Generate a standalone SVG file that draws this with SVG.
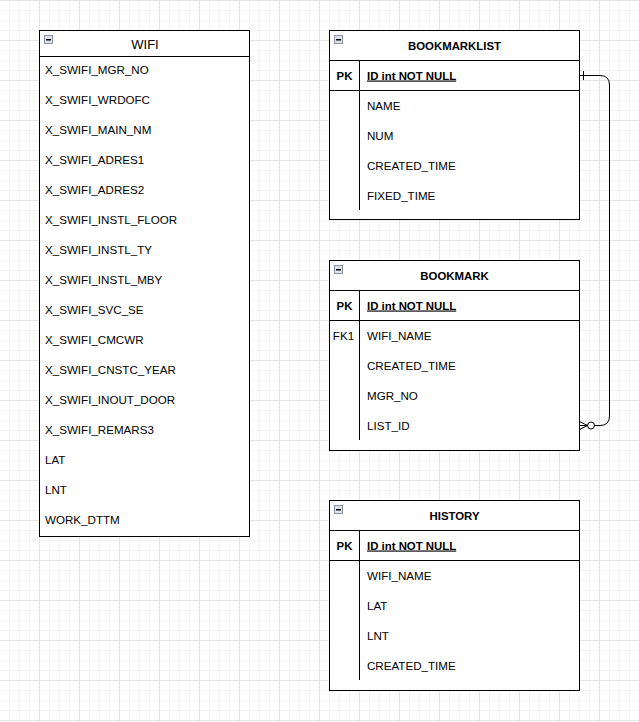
<svg xmlns="http://www.w3.org/2000/svg" width="639" height="722" viewBox="0 0 639 722">
<style>
.box{fill:#fff;stroke:#000;stroke-width:1}
.ln{stroke:#000;stroke-width:1;fill:none}
.t{font-family:"Liberation Sans",Arial,Helvetica,sans-serif;font-size:11.6px;fill:#000}
.b{font-weight:bold;font-size:11.4px}
.c{text-anchor:middle}
.u{text-decoration:underline}
.ico{fill:#dde2ea;stroke:#8a94a6;stroke-width:1}
</style>
<defs>
<pattern id="minor" width="10" height="10" patternUnits="userSpaceOnUse" x="-1" y="0"><path d="M0.5 0V10M0 0.5H10" stroke="#f4f4f4" stroke-width="1"/></pattern>
<pattern id="major" width="40" height="40" patternUnits="userSpaceOnUse" x="-1" y="0"><path d="M0.5 0V40M0 0.5H40" stroke="#e4e4e4" stroke-width="1"/></pattern>
<g id="icon"><rect class="ico" x="0.5" y="0.5" width="8" height="8"/><rect x="2" y="4" width="5" height="1.5" fill="#000"/></g>
</defs>
<rect width="639" height="722" fill="#fff"/>
<rect width="639" height="722" fill="url(#minor)"/>
<rect width="639" height="722" fill="url(#major)"/>

<g id="wifi">
<rect class="box" x="39.5" y="30.5" width="210" height="506"/>
<path class="ln" d="M39.5 56.5H249.5"/>
<use href="#icon" x="44" y="35"/>
<text class="t c" x="145" y="48.5" style="font-size:13px">WIFI</text>
<text class="t" x="45" y="74">X_SWIFI_MGR_NO</text>
<text class="t" x="45" y="104">X_SWIFI_WRDOFC</text>
<text class="t" x="45" y="134">X_SWIFI_MAIN_NM</text>
<text class="t" x="45" y="164">X_SWIFI_ADRES1</text>
<text class="t" x="45" y="194">X_SWIFI_ADRES2</text>
<text class="t" x="45" y="224">X_SWIFI_INSTL_FLOOR</text>
<text class="t" x="45" y="254">X_SWIFI_INSTL_TY</text>
<text class="t" x="45" y="284">X_SWIFI_INSTL_MBY</text>
<text class="t" x="45" y="314">X_SWIFI_SVC_SE</text>
<text class="t" x="45" y="344">X_SWIFI_CMCWR</text>
<text class="t" x="45" y="374">X_SWIFI_CNSTC_YEAR</text>
<text class="t" x="45" y="404">X_SWIFI_INOUT_DOOR</text>
<text class="t" x="45" y="434">X_SWIFI_REMARS3</text>
<text class="t" x="45" y="464">LAT</text>
<text class="t" x="45" y="494">LNT</text>
<text class="t" x="45" y="524">WORK_DTTM</text>
</g>

<g id="bookmarklist">
<rect class="box" x="329.5" y="30.5" width="250" height="189"/>
<path class="ln" d="M329.5 60.5H579.5M329.5 90.5H579.5M359.5 60.5V210"/>
<use href="#icon" x="334" y="35"/>
<text class="t b c" x="454.5" y="49.5">BOOKMARKLIST</text>
<text class="t b c" x="344.5" y="79.5">PK</text>
<text class="t b u" x="367" y="79.5">ID int NOT NULL</text>
<text class="t" x="367" y="109.5">NAME</text>
<text class="t" x="367" y="139.5">NUM</text>
<text class="t" x="367" y="169.5">CREATED_TIME</text>
<text class="t" x="367" y="199.5">FIXED_TIME</text>
</g>

<g id="bookmark">
<rect class="box" x="329.5" y="260.5" width="250" height="190"/>
<path class="ln" d="M329.5 290.5H579.5M329.5 320.5H579.5M359.5 290.5V440"/>
<use href="#icon" x="334" y="265"/>
<text class="t b c" x="454.5" y="279.5">BOOKMARK</text>
<text class="t b c" x="344.5" y="309.5">PK</text>
<text class="t b u" x="367" y="309.5">ID int NOT NULL</text>
<text class="t c" x="343.5" y="339.5">FK1</text>
<text class="t" x="367" y="339.5">WIFI_NAME</text>
<text class="t" x="367" y="369.5">CREATED_TIME</text>
<text class="t" x="367" y="399.5">MGR_NO</text>
<text class="t" x="367" y="429.5">LIST_ID</text>
</g>

<g id="history">
<rect class="box" x="329.5" y="500.5" width="250" height="190"/>
<path class="ln" d="M329.5 530.5H579.5M329.5 560.5H579.5M359.5 530.5V680"/>
<use href="#icon" x="334" y="505"/>
<text class="t b c" x="454.5" y="519.5">HISTORY</text>
<text class="t b c" x="344.5" y="549.5">PK</text>
<text class="t b u" x="367" y="549.5">ID int NOT NULL</text>
<text class="t" x="367" y="579.5">WIFI_NAME</text>
<text class="t" x="367" y="609.5">LAT</text>
<text class="t" x="367" y="639.5">LNT</text>
<text class="t" x="367" y="669.5">CREATED_TIME</text>
</g>

<g id="connectors">
<path class="ln" d="M579.5 75.5H600Q609.5 75.5 609.5 85V416Q609.5 425.5 600 425.5H594.5"/>
<path class="ln" d="M583.5 71V80"/>
<circle class="ln" cx="591" cy="425.5" r="3.5" fill="#fff"/>
<path class="ln" d="M587.5 425.5L579.5 421.5M587.5 425.5L579.5 429.5M587.5 425.5H579.5"/>
</g>
</svg>
